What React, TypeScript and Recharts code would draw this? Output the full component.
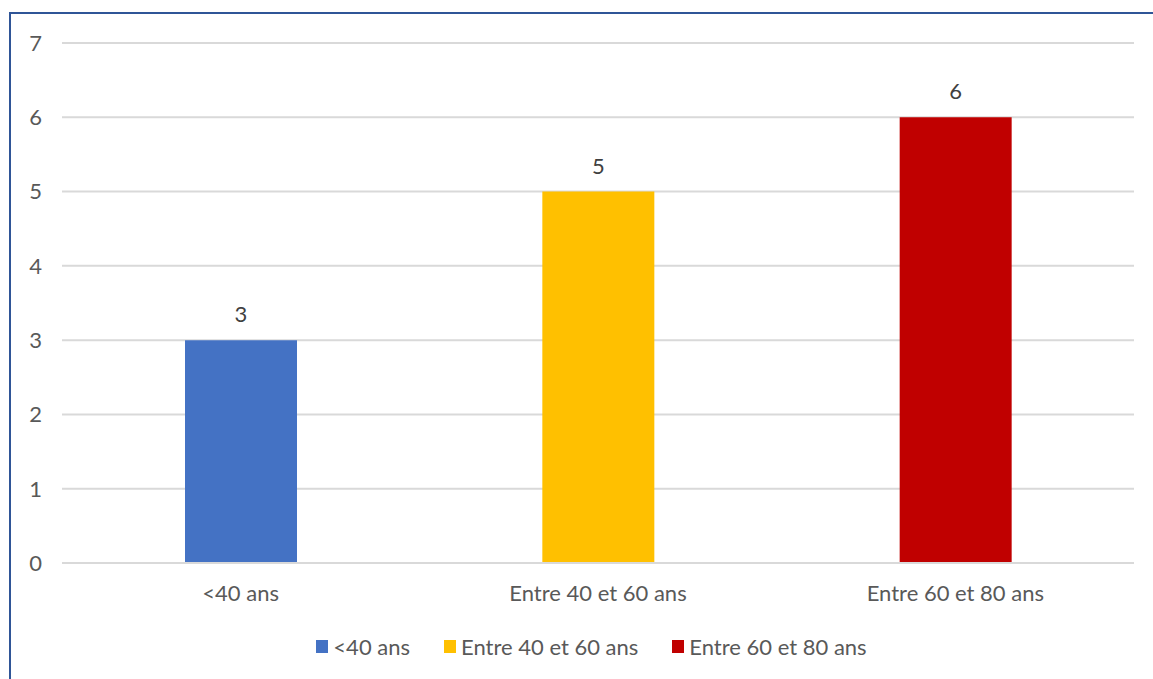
import { BarChart, Bar, XAxis, YAxis, CartesianGrid, Cell, LabelList, Legend } from 'recharts';

const categories = ['<40 ans', 'Entre 40 et 60 ans', 'Entre 60 et 80 ans'];
const values = [3, 5, 6];
const colors = ['#4472C4', '#FFC000', '#C00000'];
const yTicks = [0, 1, 2, 3, 4, 5, 6, 7];

const data = categories.map((name, i) => ({ name, value: values[i] }));

const FONT = 'Lato, "Liberation Sans", sans-serif';
const TEXT = '#595959';

const LegendContent = () => (
  <div
    style={{
      display: 'flex',
      justifyContent: 'center',
      alignItems: 'center',
      height: 30,
      fontFamily: FONT,
      fontSize: 22,
      color: TEXT,
    }}
  >
    {categories.map((c, i) => (
      <div key={c} style={{ display: 'flex', alignItems: 'center', marginLeft: i === 0 ? 0 : 34 }}>
        <span style={{ width: 12, height: 13, background: colors[i], marginRight: 5, display: 'inline-block' }} />
        <span>{c}</span>
      </div>
    ))}
  </div>
);

export default function App() {
  return (
    <div style={{ position: 'absolute', left: 0, top: 0, width: 1153, height: 679, background: '#fff', overflow: 'hidden' }}>
      {/* frame of the original chart, cut by the picture */}
      <div
        style={{
          position: 'absolute',
          left: 9,
          top: 12,
          width: 1200,
          height: 700,
          borderTop: '2px solid #2F5597',
          borderLeft: '2px solid #2F5597',
        }}
      />
      <div style={{ position: 'absolute', left: 0, top: 0 }}>
        <BarChart
          width={1153}
          height={679}
          data={data}
          margin={{ top: 43, right: 19, left: 0, bottom: 46 }}
        >
          <CartesianGrid vertical={false} stroke="#D9D9D9" strokeWidth={2} />
          <XAxis
            dataKey="name"
            axisLine={{ stroke: '#D9D9D9', strokeWidth: 2 }}
            tickLine={false}
            tickSize={0}
            tickMargin={22}
            height={40}
            tick={{ fill: TEXT, fontSize: 22, fontFamily: FONT }}
          />
          <YAxis
            domain={[0, 7]}
            ticks={yTicks}
            width={62}
            axisLine={false}
            tickLine={false}
            tickSize={0}
            tickMargin={20}
            tick={{ fill: TEXT, fontSize: 22, fontFamily: FONT }}
          />
          <Legend
            verticalAlign="bottom"
            content={<LegendContent />}
            wrapperStyle={{ left: 30, width: 1123, bottom: 18 }}
          />
          <Bar dataKey="value" barSize={112} isAnimationActive={false}>
            {data.map((d, i) => (
              <Cell key={d.name} fill={colors[i]} />
            ))}
            <LabelList
              dataKey="value"
              position="top"
              offset={18}
              style={{ fill: '#404040', fontSize: 22, fontFamily: FONT }}
            />
          </Bar>
        </BarChart>
      </div>
    </div>
  );
}
